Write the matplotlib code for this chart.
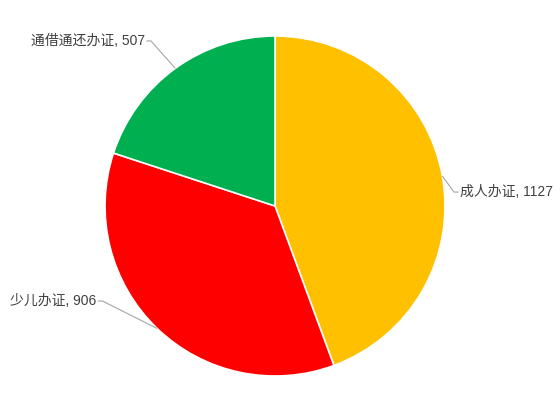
import numpy as np
import matplotlib
matplotlib.use('Agg')
import matplotlib.pyplot as plt

plt.rcParams['font.family'] = ['Liberation Sans', 'Noto Sans CJK SC', 'DejaVu Sans']

# 数据
labels = ['成人办证', '少儿办证', '通借通还办证']
values = [1127, 906, 507]
colors = ['#FFC000', '#FF0000', '#00B050']

fig = plt.figure(figsize=(5.6, 4.13), dpi=100)
ax = fig.add_axes([0, 0, 1, 1])

wedges, _ = ax.pie(values, colors=colors, startangle=90, counterclock=False,
                   radius=1.0, wedgeprops=dict(edgecolor='white', linewidth=1.2))

ax.set_xlim(-1.6176, 1.676)
ax.set_ylim(-1.2176, 1.2118)
ax.set_aspect('equal')
ax.axis('off')

# 标签位置 (以饼半径为单位)
label_pos = [(1.088, 0.082, 'left'), (-1.05, -0.559, 'right'), (-0.765, 0.971, 'right')]
elbow_dx = 0.035

for w, lab, v, (tx, ty, ha) in zip(wedges, labels, values, label_pos):
    ang = np.deg2rad((w.theta1 + w.theta2) / 2)
    ex, ey = np.cos(ang), np.sin(ang)
    bx = tx - elbow_dx if ha == 'left' else tx + elbow_dx
    ax.plot([ex, bx, tx - (0.008 if ha == 'left' else -0.008)], [ey, ty, ty],
            color='#A6A6A6', lw=0.8, solid_capstyle='butt')
    ax.text(tx, ty, f'{lab}, {v}', ha=ha, va='center', fontsize=10, color='#404040')

fig.savefig('out.png', dpi=100)
